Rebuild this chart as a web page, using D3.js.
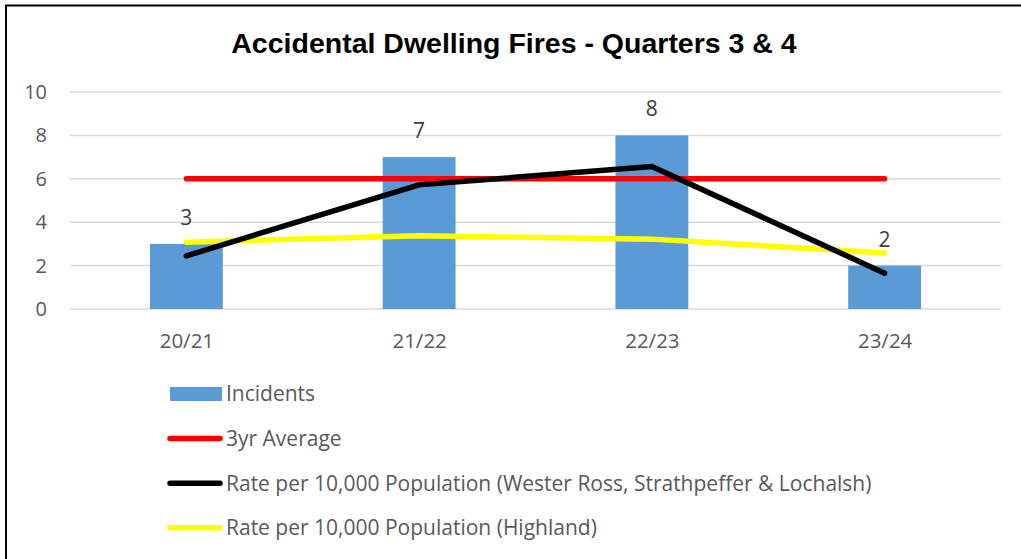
<!DOCTYPE html>
<html>
<head>
<meta charset="utf-8">
<script src="https://cdn.jsdelivr.net/npm/d3@7"></script>
<style>
  body { margin: 0; background: #fff; }
  text { font-family: "Open Sans", Lato, sans-serif; }
</style>
</head>
<body>
<div id="chart"></div>
<script>
var categories = ["20/21", "21/22", "22/23", "23/24"];
var incidents = [3, 7, 8, 2];
var threeYrAvg = [6, 6, 6, 6];
var rateLocal = [2.45, 5.72, 6.57, 1.65];
var rateHighland = [3.08, 3.37, 3.22, 2.58];
var yTicks = [0, 2, 4, 6, 8, 10];
var legendNames = ["Incidents", "3yr Average",
    "Rate per 10,000 Population (Wester Ross, Strathpeffer & Lochalsh)",
    "Rate per 10,000 Population (Highland)"];

var totalWidth = 1021, totalHeight = 559;
var plot = {left: 70, right: 1001, top: 92, bottom: 309};
var labelFont = "'Open Sans', Lato, sans-serif";

var svg = d3.select("#chart").append("svg")
    .attr("width", totalWidth)
    .attr("height", totalHeight);

// outer border (right and bottom edges fall outside the picture)
svg.append("rect")
    .attr("x", 6).attr("y", 5.5)
    .attr("width", 1030).attr("height", 620)
    .attr("fill", "none")
    .attr("stroke", "#000")
    .attr("stroke-width", 2);

svg.append("text")
    .attr("x", 514)
    .attr("y", 53)
    .attr("text-anchor", "middle")
    .style("font-family", "'Liberation Sans', Arial, sans-serif")
    .style("font-weight", "bold")
    .style("font-size", "28.5px")
    .attr("fill", "#000")
    .text("Accidental Dwelling Fires - Quarters 3 & 4");

var x = d3.scaleBand().domain(categories).range([plot.left, plot.right]).paddingInner(0.687).paddingOuter(0.3435);
var xc = d3.scalePoint().domain(categories).range([plot.left, plot.right]).padding(0.5);
var y = d3.scaleLinear().domain([0, 10]).range([plot.bottom, plot.top]);

// gridlines
svg.append("g")
    .selectAll("line")
    .data(yTicks)
    .enter().append("line")
    .attr("x1", plot.left).attr("x2", plot.right)
    .attr("y1", function(d){ return y(d); })
    .attr("y2", function(d){ return y(d); })
    .attr("stroke", "#d9d9d9")
    .attr("stroke-width", 1.5);

// y axis labels
var yAxis = d3.axisLeft(y).tickValues(yTicks).tickSize(0).tickPadding(0);
var yA = svg.append("g").attr("transform", "translate(47,0)").call(yAxis);
yA.select(".domain").remove();
yA.selectAll("text").style("font-size", "20px").attr("fill", "#595959")
    .style("font-family", labelFont);

// x axis labels
var xAxis = d3.axisBottom(xc).tickSize(0).tickPadding(0);
var xA = svg.append("g").attr("transform", "translate(0,333)").call(xAxis);
xA.select(".domain").remove();
xA.selectAll("text").style("font-size", "20.5px").attr("fill", "#595959")
    .style("font-family", labelFont);

// bars
svg.append("g").selectAll("rect")
    .data(incidents)
    .enter().append("rect")
    .attr("x", function(d, i){ return x(categories[i]); })
    .attr("width", x.bandwidth())
    .attr("y", function(d){ return y(d); })
    .attr("height", function(d){ return y(0) - y(d); })
    .attr("fill", "#5b9bd5");

// lines
var line = d3.line()
    .x(function(d, i){ return xc(categories[i]); })
    .y(function(d){ return y(d); });

var series = [
    {vals: threeYrAvg, color: "#ff0000"},
    {vals: rateLocal, color: "#000000"},
    {vals: rateHighland, color: "#ffff00"}
];
// draw order: red, yellow, black on top
[series[0], series[2], series[1]].forEach(function(s){
    svg.append("path")
        .datum(s.vals)
        .attr("d", line)
        .attr("fill", "none")
        .attr("stroke", s.color)
        .attr("stroke-width", 5.5)
        .attr("stroke-linecap", "round")
        .attr("stroke-linejoin", "round");
});

// data labels
svg.append("g").selectAll("text")
    .data(incidents)
    .enter().append("text")
    .attr("x", function(d, i){ return xc(categories[i]); })
    .attr("y", function(d){ return y(d) - 19; })
    .attr("text-anchor", "middle")
    .style("font-size", "21px")
    .attr("fill", "#404040")
    .text(function(d){ return d; });

// legend
var legend = svg.selectAll(".legend")
    .data(legendNames)
    .enter().append("g")
    .attr("class", "legend")
    .attr("transform", function(d, i){ return "translate(170," + (394 + i * 44.6) + ")"; });

legend.each(function(d, i){
    var g = d3.select(this);
    if (i === 0) {
        g.append("rect").attr("x", 0).attr("y", -7).attr("width", 52).attr("height", 14).attr("fill", "#5b9bd5");
    } else {
        g.append("line").attr("x1", 0).attr("x2", 50).attr("y1", 0).attr("y2", 0)
            .attr("stroke", ["", "#ff0000", "#000000", "#ffff00"][i])
            .attr("stroke-width", 5.5)
            .attr("stroke-linecap", "round");
    }
});

legend.append("text")
    .attr("x", 56)
    .attr("y", 0)
    .attr("dy", "0.35em")
    .style("font-size", "21px")
    .attr("fill", "#595959")
    .text(function(d){ return d; });
</script>
</body>
</html>
